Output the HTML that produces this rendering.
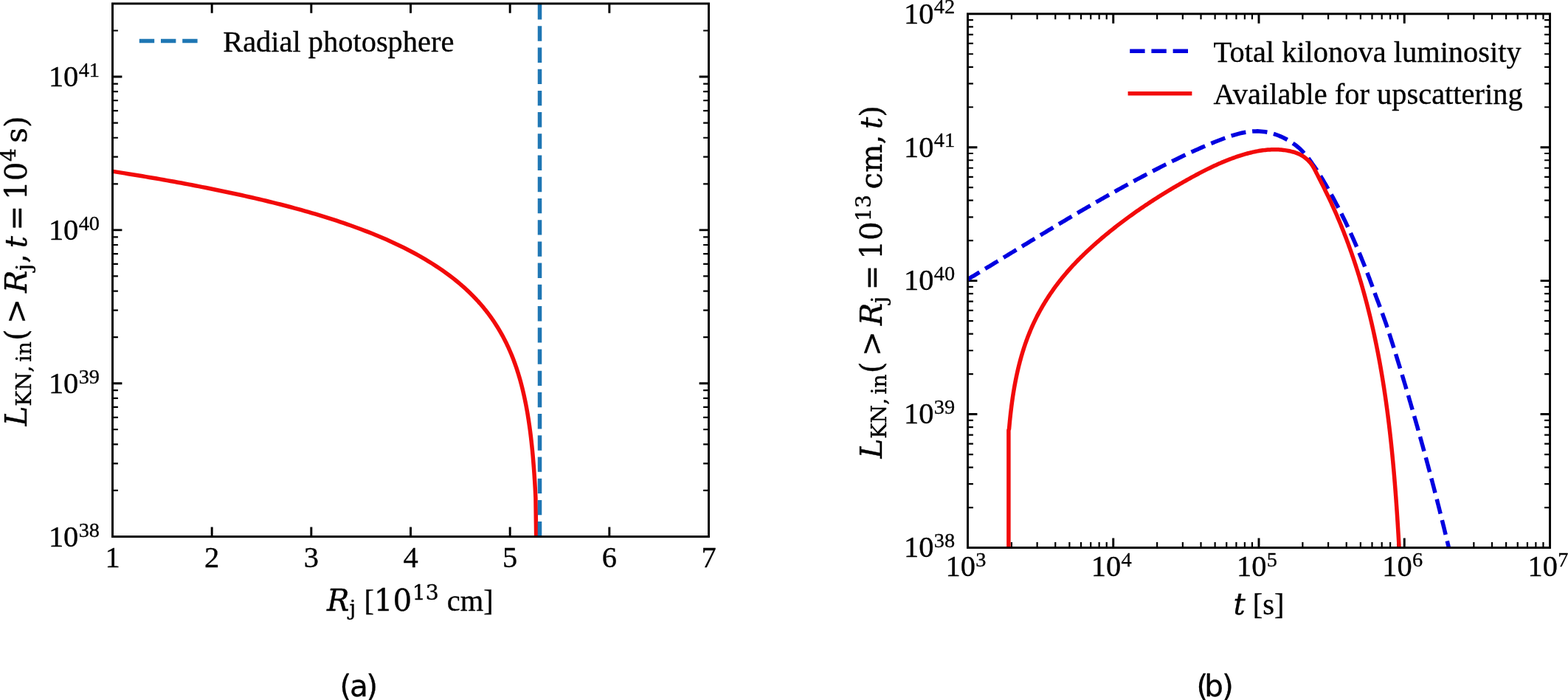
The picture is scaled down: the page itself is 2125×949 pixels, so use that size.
<!DOCTYPE html>
<html><head><meta charset="utf-8"><title>Kilonova luminosity</title>
<style>html,body{margin:0;padding:0;background:#fff}svg{display:block}</style>
</head><body>
<svg width="2125" height="949" viewBox="0 0 2125 949">
<rect width="2125" height="949" fill="#fff"/>
<g fill="#000" stroke="#000" stroke-width="0.35" stroke-linejoin="round">
<text x="65.9" y="740.8" font-family="Liberation Serif, serif" font-size="40.44">10<tspan x="106.65" y="727.5" font-size="28.31">38</tspan></text>
<text x="65.9" y="532.98" font-family="Liberation Serif, serif" font-size="40.44">10<tspan x="106.65" y="519.68" font-size="28.31">39</tspan></text>
<text x="65.9" y="325.17" font-family="Liberation Serif, serif" font-size="40.44">10<tspan x="106.65" y="311.87" font-size="28.31">40</tspan></text>
<text x="65.9" y="117.35" font-family="Liberation Serif, serif" font-size="40.44">10<tspan x="106.65" y="104.05" font-size="28.31">41</tspan></text>
<text x="152.5" y="768.5" font-family="Liberation Serif, serif" font-size="40.44" text-anchor="middle">1</text>
<text x="287.17" y="768.5" font-family="Liberation Serif, serif" font-size="40.44" text-anchor="middle">2</text>
<text x="421.83" y="768.5" font-family="Liberation Serif, serif" font-size="40.44" text-anchor="middle">3</text>
<text x="556.5" y="768.5" font-family="Liberation Serif, serif" font-size="40.44" text-anchor="middle">4</text>
<text x="691.17" y="768.5" font-family="Liberation Serif, serif" font-size="40.44" text-anchor="middle">5</text>
<text x="825.83" y="768.5" font-family="Liberation Serif, serif" font-size="40.44" text-anchor="middle">6</text>
<text x="960.5" y="768.5" font-family="Liberation Serif, serif" font-size="40.44" text-anchor="middle">7</text>
<text x="302.2" y="69.7" font-family="Liberation Serif, serif" font-size="40.44">Radial photosphere</text>
<text transform="translate(443 827.7)"><tspan x="0" y="0" font-family="DejaVu Serif, serif" font-size="40.44" font-style="italic">R</tspan><tspan x="30.44" y="6.36" font-family="DejaVu Serif, serif" font-size="28.31">j</tspan><tspan x="40.27 50.38" y="0" font-family="Liberation Serif, serif" font-size="40.44"> [</tspan><tspan x="63.83 89.55" y="0" font-family="DejaVu Serif, serif" font-size="40.44">10</tspan><tspan x="115.64 133.64" y="-14.82" font-family="DejaVu Serif, serif" font-size="28.31">13</tspan><tspan x="152.7 162.81 180.75 212.19" y="0" font-family="Liberation Serif, serif" font-size="40.44"> cm]</tspan></text>
<text transform="translate(36.1 577.5) rotate(-90)"><tspan x="0" y="0" font-family="DejaVu Serif, serif" font-size="40.44" font-style="italic">L</tspan><tspan x="26.85 47.98 72.74 87.1 96.15" y="6.36" font-family="DejaVu Serif, serif" font-size="28.31">KN,in</tspan><tspan x="115.43 138.87" y="0" font-family="DejaVu Serif, serif" font-size="40.44">(&gt;</tspan><tspan x="180.4" y="0" font-family="DejaVu Serif, serif" font-size="40.44" font-style="italic">R</tspan><tspan x="210.84" y="6.36" font-family="DejaVu Serif, serif" font-size="28.31">j</tspan><tspan x="220.67" y="0" font-family="DejaVu Serif, serif" font-size="40.44">,</tspan><tspan x="241.19" y="0" font-family="DejaVu Serif, serif" font-size="40.44" font-style="italic">t</tspan><tspan x="265.1 306.63 332.35" y="0" font-family="DejaVu Serif, serif" font-size="40.44">=10</tspan><tspan x="358.44" y="-14.82" font-family="DejaVu Serif, serif" font-size="28.31">4</tspan><tspan x="383.88 404.63" y="0" font-family="DejaVu Serif, serif" font-size="40.44">s)</tspan></text>
<text x="460.4" y="943.8" font-family="DejaVu Sans, sans-serif" font-size="40.5">(<tspan dx="-2.1">a</tspan><tspan dx="-2.6">)</tspan></text>
<text x="1225.1" y="755.3" font-family="Liberation Serif, serif" font-size="40.44">10<tspan x="1265.85" y="742" font-size="28.31">38</tspan></text>
<text x="1225.1" y="574.38" font-family="Liberation Serif, serif" font-size="40.44">10<tspan x="1265.85" y="561.08" font-size="28.31">39</tspan></text>
<text x="1225.1" y="393.45" font-family="Liberation Serif, serif" font-size="40.44">10<tspan x="1265.85" y="380.15" font-size="28.31">40</tspan></text>
<text x="1225.1" y="212.52" font-family="Liberation Serif, serif" font-size="40.44">10<tspan x="1265.85" y="199.22" font-size="28.31">41</tspan></text>
<text x="1225.1" y="31.6" font-family="Liberation Serif, serif" font-size="40.44">10<tspan x="1265.85" y="18.3" font-size="28.31">42</tspan></text>
<text x="1281.6" y="781.3" font-family="Liberation Serif, serif" font-size="40.44">10<tspan x="1322.35" y="767.5" font-size="28.31">3</tspan></text>
<text x="1478.85" y="781.3" font-family="Liberation Serif, serif" font-size="40.44">10<tspan x="1519.6" y="767.5" font-size="28.31">4</tspan></text>
<text x="1676.1" y="781.3" font-family="Liberation Serif, serif" font-size="40.44">10<tspan x="1716.85" y="767.5" font-size="28.31">5</tspan></text>
<text x="1873.35" y="781.3" font-family="Liberation Serif, serif" font-size="40.44">10<tspan x="1914.1" y="767.5" font-size="28.31">6</tspan></text>
<text x="2070.6" y="781.3" font-family="Liberation Serif, serif" font-size="40.44">10<tspan x="2111.35" y="767.5" font-size="28.31">7</tspan></text>
<text x="1644.6" y="83.8" font-family="Liberation Serif, serif" font-size="40.44">Total kilonova luminosity</text>
<text x="1644.6" y="141.2" font-family="Liberation Serif, serif" font-size="40.44">Available for upscattering</text>
<text transform="translate(1671.4 833.3)"><tspan x="0" y="0" font-family="DejaVu Serif, serif" font-size="40.44" font-style="italic">t</tspan><tspan x="16.25 26.35 39.81 55.54" y="0" font-family="Liberation Serif, serif" font-size="40.44"> [s]</tspan></text>
<text transform="translate(1195 621.6) rotate(-90)"><tspan x="0" y="0" font-family="DejaVu Serif, serif" font-size="40.44" font-style="italic">L</tspan><tspan x="26.85 47.98 72.74 87.1 96.15" y="6.36" font-family="DejaVu Serif, serif" font-size="28.31">KN,in</tspan><tspan x="115.43 138.87" y="0" font-family="DejaVu Serif, serif" font-size="40.44">(&gt;</tspan><tspan x="180.4" y="0" font-family="DejaVu Serif, serif" font-size="40.44" font-style="italic">R</tspan><tspan x="210.84" y="6.36" font-family="DejaVu Serif, serif" font-size="28.31">j</tspan><tspan x="228.33 269.87 295.58" y="0" font-family="DejaVu Serif, serif" font-size="40.44">=10</tspan><tspan x="321.67 339.68" y="-14.82" font-family="DejaVu Serif, serif" font-size="28.31">13</tspan><tspan x="365.13 387.77 426.1" y="0" font-family="DejaVu Serif, serif" font-size="40.44">cm,</tspan><tspan x="446.62" y="0" font-family="DejaVu Serif, serif" font-size="40.44" font-style="italic">t</tspan><tspan x="462.85" y="0" font-family="DejaVu Serif, serif" font-size="40.44">)</tspan></text>
<text x="1621.5" y="943.8" font-family="DejaVu Sans, sans-serif" font-size="40.5">(<tspan dx="-5.0">b</tspan><tspan dx="-2.0">)</tspan></text>
</g>
<path d="M287.17 727.5v-12.9M287.17 4.9v12.9M421.83 727.5v-12.9M421.83 4.9v12.9M556.5 727.5v-12.9M556.5 4.9v12.9M691.17 727.5v-12.9M691.17 4.9v12.9M825.83 727.5v-12.9M825.83 4.9v12.9M152.5 519.68h12.9M960.5 519.68h-12.9M152.5 311.87h12.9M960.5 311.87h-12.9M152.5 104.05h12.9M960.5 104.05h-12.9" stroke="#000" stroke-width="2.94" fill="none"/>
<path d="M152.5 664.94h7.4M960.5 664.94h-7.4M152.5 628.35h7.4M960.5 628.35h-7.4M152.5 602.38h7.4M960.5 602.38h-7.4M152.5 582.24h7.4M960.5 582.24h-7.4M152.5 565.79h7.4M960.5 565.79h-7.4M152.5 551.88h7.4M960.5 551.88h-7.4M152.5 539.82h7.4M960.5 539.82h-7.4M152.5 529.19h7.4M960.5 529.19h-7.4M152.5 457.13h7.4M960.5 457.13h-7.4M152.5 420.53h7.4M960.5 420.53h-7.4M152.5 394.57h7.4M960.5 394.57h-7.4M152.5 374.43h7.4M960.5 374.43h-7.4M152.5 357.97h7.4M960.5 357.97h-7.4M152.5 344.06h7.4M960.5 344.06h-7.4M152.5 332.01h7.4M960.5 332.01h-7.4M152.5 321.38h7.4M960.5 321.38h-7.4M152.5 249.31h7.4M960.5 249.31h-7.4M152.5 212.72h7.4M960.5 212.72h-7.4M152.5 186.75h7.4M960.5 186.75h-7.4M152.5 166.61h7.4M960.5 166.61h-7.4M152.5 150.16h7.4M960.5 150.16h-7.4M152.5 136.24h7.4M960.5 136.24h-7.4M152.5 124.19h7.4M960.5 124.19h-7.4M152.5 113.56h7.4M960.5 113.56h-7.4M152.5 41.49h7.4M960.5 41.49h-7.4" stroke="#000" stroke-width="2.2" fill="none"/>
<clipPath id="ca"><rect x="152.5" y="4.9" width="808.0" height="722.6"/></clipPath>
<g clip-path="url(#ca)" fill="none">
<path d="M149.81 231.87 L154.59 232.62 L159.38 233.37 L164.17 234.13 L168.96 234.89 L173.75 235.66 L178.54 236.44 L183.32 237.22 L188.11 238.01 L192.9 238.81 L197.69 239.61 L202.48 240.42 L207.26 241.24 L212.05 242.07 L216.84 242.9 L221.63 243.75 L226.42 244.6 L231.21 245.46 L235.99 246.32 L240.78 247.2 L245.57 248.08 L250.36 248.98 L255.15 249.88 L259.93 250.79 L264.72 251.71 L269.51 252.64 L274.3 253.58 L279.09 254.53 L283.87 255.49 L288.66 256.46 L293.45 257.44 L298.24 258.43 L303.03 259.43 L307.82 260.43 L312.6 261.44 L317.39 262.47 L322.18 263.51 L326.97 264.56 L331.76 265.62 L336.54 266.7 L341.33 267.79 L346.12 268.89 L350.91 270.01 L355.7 271.14 L360.49 272.29 L365.27 273.45 L370.06 274.63 L374.85 275.82 L379.64 277.03 L384.43 278.26 L389.21 279.51 L394 280.77 L398.79 282.05 L403.58 283.36 L408.37 284.69 L413.15 286.04 L417.94 287.42 L422.73 288.81 L427.52 290.23 L432.31 291.67 L437.1 293.13 L441.88 294.62 L446.67 296.13 L451.46 297.66 L456.25 299.23 L461.04 300.82 L465.82 302.44 L470.61 304.09 L475.4 305.77 L480.19 307.48 L484.98 309.23 L489.77 311 L494.55 312.82 L499.34 314.67 L504.13 316.56 L508.92 318.5 L513.71 320.47 L518.49 322.49 L523.28 324.57 L528.07 326.72 L532.86 328.91 L537.65 331.16 L542.43 333.46 L547.22 335.82 L552.01 338.24 L556.8 340.73 L561.59 343.29 L566.38 345.92 L571.16 348.62 L575.95 351.41 L580.74 354.29 L585.53 357.26 L590.32 360.32 L595.1 363.5 L599.89 366.78 L604.68 370.19 L609.47 373.73 L614.26 377.41 L619.05 381.25 L623.83 385.25 L623.83 385.25 L624.48 385.8 L625.12 386.35 L625.76 386.91 L626.4 387.47 L627.04 388.04 L627.69 388.6 L628.33 389.17 L628.97 389.75 L629.61 390.33 L630.25 390.91 L630.9 391.49 L631.54 392.08 L632.18 392.68 L632.82 393.27 L633.46 393.87 L634.11 394.48 L634.75 395.09 L635.39 395.7 L636.03 396.32 L636.67 396.94 L637.32 397.56 L637.96 398.19 L638.6 398.83 L639.24 399.47 L639.88 400.11 L640.53 400.76 L641.17 401.41 L641.81 402.07 L642.45 402.73 L643.09 403.4 L643.74 404.07 L644.38 404.74 L645.02 405.43 L645.66 406.11 L646.3 406.8 L646.95 407.5 L647.59 408.2 L648.23 408.91 L648.87 409.63 L649.51 410.34 L650.16 411.07 L650.8 411.8 L651.44 412.54 L652.08 413.28 L652.72 414.03 L653.37 414.78 L654.01 415.54 L654.65 416.31 L655.29 417.08 L655.93 417.87 L656.58 418.65 L657.22 419.45 L657.86 420.25 L658.5 421.06 L659.14 421.87 L659.79 422.7 L660.43 423.53 L661.07 424.36 L661.71 425.21 L662.35 426.06 L663 426.92 L663.64 427.8 L664.28 428.67 L664.92 429.56 L665.56 430.46 L666.21 431.36 L666.85 432.27 L667.49 433.2 L668.13 434.13 L668.77 435.07 L669.42 436.02 L670.06 436.99 L670.7 437.96 L671.34 438.94 L671.98 439.93 L672.63 440.94 L673.27 441.95 L673.91 442.98 L674.55 444.02 L675.19 445.07 L675.83 446.13 L676.48 447.21 L677.12 448.3 L677.76 449.4 L678.4 450.52 L679.04 451.65 L679.69 452.79 L680.33 453.94 L680.97 455.11 L681.61 456.3 L682.25 457.5 L682.9 458.71 L683.54 459.95 L684.18 461.2 L684.82 462.46 L685.46 463.75 L686.11 465.05 L686.75 466.38 L687.39 467.72 L688.03 469.08 L688.67 470.47 L689.32 471.87 L689.96 473.3 L690.6 474.75 L691.24 476.23 L691.88 477.72 L692.53 479.25 L693.17 480.8 L693.81 482.38 L694.45 483.98 L695.09 485.62 L695.74 487.28 L696.38 488.98 L697.02 490.71 L697.66 492.47 L698.3 494.27 L698.95 496.1 L699.59 497.97 L700.23 499.88 L700.87 501.84 L701.51 503.83 L702.16 505.88 L702.8 507.96 L703.44 510.1 L704.08 512.29 L704.72 514.54 L705.37 516.84 L706.01 519.2 L706.65 521.63 L707.29 524.12 L707.93 526.68 L708.58 529.32 L709.22 532.04 L709.86 534.84 L710.5 537.73 L711.14 540.72 L711.79 543.81 L712.43 547.01 L713.07 550.33 L713.71 553.77 L714.35 557.35 L715 561.08 L715.64 564.97 L716.28 569.03 L716.92 573.29 L717.56 577.75 L718.21 582.45 L718.85 587.41 L719.49 592.65 L720.13 598.22 L720.77 604.16 L721.42 610.51 L722.06 617.34 L722.7 624.74 L723.34 632.79 L723.98 641.64 L724.63 651.44 L725.27 662.45 L725.91 674.98 L726.7 731" stroke="#f20a0a" stroke-width="5.51" stroke-linejoin="round"/>
<path d="M731.5 727.5V4.9" stroke="#1f77b4" stroke-width="5.51" stroke-dasharray="20.39 8.82"/>
</g>
<rect x="152.5" y="4.9" width="808" height="722.6" fill="none" stroke="#000" stroke-width="2.95"/>
<path d="M188.8 55.6H270" fill="none" stroke="#1f77b4" stroke-width="5.51" stroke-dasharray="20.39 8.82"/>
<path d="M1508.75 742.5v-12.9M1508.75 18.8v12.9M1706 742.5v-12.9M1706 18.8v12.9M1903.25 742.5v-12.9M1903.25 18.8v12.9M1311.5 561.58h12.9M2100.5 561.58h-12.9M1311.5 380.65h12.9M2100.5 380.65h-12.9M1311.5 199.72h12.9M2100.5 199.72h-12.9" stroke="#000" stroke-width="2.94" fill="none"/>
<path d="M1370.88 742.5v-7.4M1370.88 18.8v7.4M1405.61 742.5v-7.4M1405.61 18.8v7.4M1430.26 742.5v-7.4M1430.26 18.8v7.4M1449.37 742.5v-7.4M1449.37 18.8v7.4M1464.99 742.5v-7.4M1464.99 18.8v7.4M1478.2 742.5v-7.4M1478.2 18.8v7.4M1489.63 742.5v-7.4M1489.63 18.8v7.4M1499.72 742.5v-7.4M1499.72 18.8v7.4M1568.13 742.5v-7.4M1568.13 18.8v7.4M1602.86 742.5v-7.4M1602.86 18.8v7.4M1627.51 742.5v-7.4M1627.51 18.8v7.4M1646.62 742.5v-7.4M1646.62 18.8v7.4M1662.24 742.5v-7.4M1662.24 18.8v7.4M1675.45 742.5v-7.4M1675.45 18.8v7.4M1686.88 742.5v-7.4M1686.88 18.8v7.4M1696.97 742.5v-7.4M1696.97 18.8v7.4M1765.38 742.5v-7.4M1765.38 18.8v7.4M1800.11 742.5v-7.4M1800.11 18.8v7.4M1824.76 742.5v-7.4M1824.76 18.8v7.4M1843.87 742.5v-7.4M1843.87 18.8v7.4M1859.49 742.5v-7.4M1859.49 18.8v7.4M1872.7 742.5v-7.4M1872.7 18.8v7.4M1884.13 742.5v-7.4M1884.13 18.8v7.4M1894.22 742.5v-7.4M1894.22 18.8v7.4M1962.63 742.5v-7.4M1962.63 18.8v7.4M1997.36 742.5v-7.4M1997.36 18.8v7.4M2022.01 742.5v-7.4M2022.01 18.8v7.4M2041.12 742.5v-7.4M2041.12 18.8v7.4M2056.74 742.5v-7.4M2056.74 18.8v7.4M2069.95 742.5v-7.4M2069.95 18.8v7.4M2081.38 742.5v-7.4M2081.38 18.8v7.4M2091.47 742.5v-7.4M2091.47 18.8v7.4M1311.5 688.04h7.4M2100.5 688.04h-7.4M1311.5 656.18h7.4M2100.5 656.18h-7.4M1311.5 633.57h7.4M2100.5 633.57h-7.4M1311.5 616.04h7.4M2100.5 616.04h-7.4M1311.5 601.71h7.4M2100.5 601.71h-7.4M1311.5 589.6h7.4M2100.5 589.6h-7.4M1311.5 579.11h7.4M2100.5 579.11h-7.4M1311.5 569.85h7.4M2100.5 569.85h-7.4M1311.5 507.11h7.4M2100.5 507.11h-7.4M1311.5 475.25h7.4M2100.5 475.25h-7.4M1311.5 452.65h7.4M2100.5 452.65h-7.4M1311.5 435.11h7.4M2100.5 435.11h-7.4M1311.5 420.79h7.4M2100.5 420.79h-7.4M1311.5 408.68h7.4M2100.5 408.68h-7.4M1311.5 398.18h7.4M2100.5 398.18h-7.4M1311.5 388.93h7.4M2100.5 388.93h-7.4M1311.5 326.19h7.4M2100.5 326.19h-7.4M1311.5 294.33h7.4M2100.5 294.33h-7.4M1311.5 271.72h7.4M2100.5 271.72h-7.4M1311.5 254.19h7.4M2100.5 254.19h-7.4M1311.5 239.86h7.4M2100.5 239.86h-7.4M1311.5 227.75h7.4M2100.5 227.75h-7.4M1311.5 217.26h7.4M2100.5 217.26h-7.4M1311.5 208h7.4M2100.5 208h-7.4M1311.5 145.26h7.4M2100.5 145.26h-7.4M1311.5 113.4h7.4M2100.5 113.4h-7.4M1311.5 90.8h7.4M2100.5 90.8h-7.4M1311.5 73.26h7.4M2100.5 73.26h-7.4M1311.5 58.94h7.4M2100.5 58.94h-7.4M1311.5 46.83h7.4M2100.5 46.83h-7.4M1311.5 36.33h7.4M2100.5 36.33h-7.4M1311.5 27.08h7.4M2100.5 27.08h-7.4" stroke="#000" stroke-width="2.2" fill="none"/>
<clipPath id="cb"><rect x="1311.5" y="18.8" width="789" height="723.7"/></clipPath>
<g clip-path="url(#cb)" fill="none">
<path d="M1310.09 379.56 L1312.49 378.11 L1314.89 376.67 L1317.29 375.22 L1319.68 373.78 L1322.08 372.33 L1324.47 370.89 L1326.86 369.44 L1329.25 367.99 L1331.63 366.55 L1334.02 365.1 L1336.4 363.66 L1338.78 362.21 L1341.16 360.77 L1343.53 359.32 L1345.91 357.88 L1348.28 356.43 L1350.65 354.99 L1353.02 353.55 L1355.39 352.1 L1357.76 350.66 L1360.13 349.22 L1362.49 347.77 L1364.85 346.33 L1367.22 344.89 L1369.58 343.45 L1371.94 342.01 L1374.3 340.57 L1376.66 339.13 L1379.02 337.7 L1381.37 336.26 L1383.73 334.82 L1386.09 333.39 L1388.44 331.95 L1390.8 330.52 L1393.15 329.09 L1395.5 327.66 L1397.86 326.22 L1400.21 324.79 L1402.56 323.37 L1404.92 321.94 L1407.27 320.51 L1409.62 319.09 L1411.97 317.66 L1414.32 316.24 L1416.68 314.82 L1419.03 313.4 L1421.38 311.98 L1423.74 310.56 L1426.09 309.14 L1428.44 307.73 L1430.8 306.31 L1433.15 304.9 L1435.51 303.49 L1437.86 302.08 L1440.22 300.67 L1442.58 299.27 L1444.94 297.86 L1447.29 296.46 L1449.65 295.06 L1452.02 293.66 L1454.38 292.26 L1456.74 290.87 L1459.1 289.47 L1461.47 288.08 L1463.84 286.69 L1466.2 285.3 L1468.57 283.92 L1470.94 282.53 L1473.32 281.15 L1475.69 279.77 L1478.06 278.39 L1480.44 277.02 L1482.82 275.64 L1485.2 274.27 L1487.58 272.9 L1489.97 271.54 L1492.35 270.17 L1494.74 268.81 L1497.13 267.45 L1499.52 266.09 L1501.92 264.74 L1504.31 263.39 L1506.71 262.04 L1509.11 260.69 L1511.52 259.34 L1513.92 258 L1516.33 256.66 L1518.74 255.33 L1521.16 253.99 L1523.58 252.66 L1525.99 251.33 L1528.42 250.01 L1530.84 248.68 L1533.27 247.36 L1535.7 246.05 L1538.13 244.73 L1540.57 243.42 L1543.01 242.11 L1545.46 240.81 L1547.9 239.5 L1550.35 238.21 L1552.81 236.91 L1555.26 235.62 L1557.72 234.33 L1560.19 233.04 L1562.66 231.76 L1565.13 230.48 L1567.6 229.2 L1570.08 227.93 L1572.56 226.66 L1575.05 225.39 L1577.54 224.13 L1580.04 222.87 L1582.53 221.62 L1585.04 220.37 L1587.54 219.13 L1590.05 217.89 L1592.56 216.66 L1595.08 215.43 L1597.6 214.21 L1600.13 212.99 L1602.66 211.78 L1605.19 210.58 L1607.73 209.39 L1610.27 208.2 L1612.81 207.02 L1615.36 205.85 L1617.91 204.69 L1620.46 203.54 L1623.02 202.39 L1625.58 201.26 L1628.15 200.13 L1630.72 199.02 L1633.29 197.91 L1635.87 196.82 L1638.45 195.73 L1641.04 194.66 L1643.62 193.6 L1646.21 192.55 L1648.81 191.51 L1651.41 190.49 L1654.01 189.47 L1656.62 188.48 L1659.22 187.5 L1661.84 186.54 L1664.45 185.62 L1667.07 184.72 L1669.7 183.86 L1672.32 183.04 L1674.95 182.27 L1677.59 181.54 L1680.22 180.87 L1682.86 180.26 L1685.51 179.7 L1688.15 179.21 L1690.81 178.79 L1693.46 178.44 L1696.12 178.18 L1698.78 177.99 L1701.44 177.89 L1704.11 177.88 L1706.78 177.96 L1709.45 178.15 L1712.13 178.43 L1714.81 178.81 L1717.48 179.29 L1720.14 179.86 L1722.8 180.52 L1725.44 181.27 L1728.07 182.1 L1730.68 183.02 L1733.27 184.02 L1735.83 185.1 L1738.37 186.26 L1740.88 187.49 L1743.36 188.79 L1745.8 190.17 L1748.2 191.61 L1750.56 193.12 L1752.87 194.69 L1755.14 196.32 L1757.36 198.01 L1759.53 199.76 L1761.54 201.56 L1763.46 203.41 L1765.34 205.31 L1767.15 207.26 L1768.92 209.26 L1770.63 211.29 L1772.3 213.37 L1773.92 215.49 L1775.5 217.64 L1777.04 219.82 L1778.54 222.04 L1780.17 224.28 L1781.78 226.55 L1783.35 228.84 L1784.89 231.16 L1786.41 233.49 L1787.91 235.85 L1789.38 238.21 L1790.84 240.59 L1792.28 242.98 L1793.71 245.38 L1795.12 247.79 L1796.53 250.19 L1797.92 252.61 L1799.31 255.02 L1800.68 257.44 L1802.05 259.86 L1803.4 262.29 L1804.75 264.72 L1806.08 267.16 L1807.41 269.59 L1808.72 272.04 L1810.03 274.48 L1811.33 276.93 L1812.62 279.38 L1813.89 281.84 L1815.16 284.3 L1816.42 286.76 L1817.67 289.23 L1818.92 291.7 L1820.15 294.18 L1821.38 296.65 L1822.59 299.13 L1823.79 301.62 L1824.96 304.1 L1826.13 306.6 L1827.29 309.09 L1828.45 311.59 L1829.59 314.09 L1830.73 316.59 L1831.85 319.1 L1832.98 321.61 L1834.09 324.12 L1835.19 326.63 L1836.29 329.15 L1837.38 331.67 L1838.47 334.2 L1839.54 336.73 L1840.61 339.26 L1841.67 341.79 L1842.73 344.32 L1843.78 346.86 L1844.82 349.41 L1845.85 351.95 L1846.88 354.5 L1847.9 357.05 L1848.92 359.6 L1849.92 362.15 L1850.93 364.71 L1851.92 367.27 L1852.91 369.83 L1853.9 372.4 L1854.88 374.97 L1855.85 377.54 L1856.82 380.11 L1857.78 382.69 L1858.73 385.26 L1859.68 387.84 L1860.63 390.42 L1861.57 393.01 L1862.51 395.6 L1863.44 398.18 L1864.38 400.78 L1865.37 403.37 L1866.35 405.96 L1867.33 408.56 L1868.3 411.16 L1869.27 413.76 L1870.24 416.37 L1871.2 418.97 L1872.16 421.58 L1873.11 424.19 L1874.06 426.8 L1875 429.41 L1875.94 432.03 L1876.88 434.65 L1877.82 437.26 L1878.75 439.89 L1879.61 442.51 L1880.47 445.13 L1881.32 447.76 L1882.17 450.38 L1883.02 453.01 L1883.87 455.64 L1884.71 458.28 L1885.55 460.91 L1886.39 463.54 L1887.22 466.18 L1888.06 468.82 L1888.89 471.46 L1889.71 474.1 L1890.54 476.74 L1891.36 479.38 L1892.18 482.03 L1893 484.68 L1893.82 487.32 L1894.63 489.97 L1895.45 492.62 L1896.26 495.27 L1897.07 497.92 L1897.88 500.58 L1898.68 503.23 L1899.49 505.89 L1900.29 508.54 L1901.09 511.2 L1901.89 513.86 L1902.69 516.52 L1903.49 519.18 L1904.28 521.84 L1905.07 524.5 L1905.86 527.16 L1906.65 529.82 L1907.44 532.49 L1908.23 535.15 L1909.01 537.82 L1909.79 540.48 L1910.57 543.15 L1911.35 545.82 L1912.13 548.48 L1912.9 551.15 L1913.67 553.82 L1914.45 556.49 L1915.22 559.16 L1915.98 561.83 L1916.75 564.5 L1917.51 567.17 L1918.27 569.84 L1919.03 572.52 L1919.79 575.19 L1920.55 577.86 L1921.3 580.53 L1922.06 583.2 L1922.81 585.88 L1923.55 588.55 L1924.3 591.22 L1925.05 593.9 L1925.79 596.57 L1926.53 599.24 L1927.27 601.91 L1928.01 604.59 L1928.74 607.26 L1929.47 609.93 L1930.21 612.61 L1930.94 615.28 L1931.66 617.95 L1932.39 620.62 L1933.11 623.3 L1933.83 625.97 L1934.55 628.64 L1935.27 631.31 L1935.98 633.98 L1936.7 636.65 L1937.41 639.32 L1938.12 641.99 L1938.83 644.66 L1939.53 647.33 L1940.23 650 L1940.94 652.66 L1941.64 655.33 L1942.33 658 L1943.03 660.66 L1943.72 663.33 L1944.41 665.99 L1945.1 668.66 L1945.79 671.32 L1946.47 673.98 L1947.15 676.64 L1947.83 679.3 L1948.51 681.96 L1949.19 684.62 L1949.86 687.28 L1950.53 689.93 L1951.2 692.59 L1951.87 695.24 L1952.54 697.9 L1953.2 700.55 L1953.86 703.2 L1954.52 705.85 L1955.18 708.5 L1955.83 711.15 L1956.49 713.79 L1957.14 716.44 L1957.78 719.08 L1958.43 721.73 L1959.07 724.37 L1959.72 727.01 L1960.35 729.65 L1960.99 732.28 L1961.63 734.92 L1962.26 737.55 L1962.89 740.19 L1963.52 742.82 L1964.14 745.45 L1964.77 748.08 L1965.39 750.7 L1966.01 753.33" stroke="#0000e0" stroke-width="5.51" stroke-dasharray="20.39 8.82" stroke-dashoffset="0"/>
<path d="M1366.9 750 L1366.9 583.2 L1367.55 581.46 L1367.69 579.8 L1367.84 578.14 L1367.99 576.49 L1368.14 574.83 L1368.3 573.17 L1368.46 571.51 L1368.62 569.84 L1368.79 568.18 L1368.96 566.52 L1369.14 564.86 L1369.31 563.2 L1369.5 561.54 L1369.68 559.88 L1369.87 558.22 L1370.07 556.56 L1370.27 554.9 L1370.47 553.24 L1370.68 551.58 L1370.89 549.93 L1371.1 548.27 L1371.32 546.61 L1371.55 544.95 L1371.78 543.3 L1372.01 541.64 L1372.25 539.99 L1372.49 538.33 L1372.74 536.68 L1373 535.03 L1373.26 533.38 L1373.52 531.72 L1373.79 530.07 L1374.07 528.43 L1374.35 526.78 L1374.63 525.13 L1374.93 523.49 L1375.22 521.84 L1375.53 520.2 L1375.84 518.56 L1376.15 516.92 L1376.47 515.28 L1376.8 513.64 L1377.13 512 L1377.47 510.37 L1377.82 508.74 L1378.17 507.1 L1378.53 505.47 L1378.89 503.85 L1379.26 502.22 L1379.64 500.6 L1380.02 498.97 L1380.42 497.35 L1380.81 495.73 L1381.22 494.12 L1381.63 492.5 L1382.05 490.89 L1382.48 489.28 L1382.91 487.67 L1383.35 486.06 L1383.8 484.46 L1384.26 482.86 L1384.72 481.26 L1385.19 479.66 L1385.67 478.07 L1386.16 476.48 L1386.65 474.89 L1387.15 473.3 L1387.66 471.72 L1388.18 470.14 L1388.71 468.56 L1389.24 466.98 L1389.79 465.41 L1390.34 463.84 L1390.9 462.27 L1391.47 460.71 L1392.05 459.14 L1392.63 457.59 L1393.23 456.03 L1393.83 454.48 L1394.44 452.93 L1395.06 451.38 L1395.69 449.84 L1396.33 448.3 L1396.98 446.77 L1397.64 445.24 L1398.31 443.71 L1398.98 442.18 L1399.67 440.66 L1400.37 439.14 L1401.07 437.63 L1401.79 436.12 L1402.51 434.61 L1403.25 433.11 L1403.99 431.61 L1404.74 430.11 L1405.5 428.62 L1406.27 427.13 L1407.05 425.65 L1407.84 424.17 L1408.64 422.7 L1409.44 421.23 L1410.26 419.76 L1411.08 418.3 L1411.91 416.84 L1412.75 415.39 L1413.6 413.94 L1414.45 412.5 L1415.32 411.06 L1416.19 409.63 L1417.07 408.2 L1417.96 406.78 L1418.86 405.36 L1419.76 403.95 L1420.68 402.54 L1421.6 401.13 L1422.53 399.73 L1423.46 398.34 L1424.41 396.95 L1425.36 395.57 L1426.31 394.2 L1427.28 392.82 L1428.25 391.46 L1429.23 390.1 L1430.22 388.74 L1431.21 387.4 L1432.22 386.05 L1433.22 384.72 L1434.24 383.38 L1435.26 382.06 L1436.29 380.74 L1437.32 379.43 L1438.36 378.12 L1439.41 376.82 L1440.47 375.53 L1441.53 374.24 L1442.59 372.96 L1443.67 371.68 L1444.75 370.41 L1445.83 369.15 L1446.92 367.89 L1448.02 366.64 L1449.12 365.39 L1450.23 364.15 L1451.35 362.91 L1452.47 361.69 L1453.59 360.46 L1454.73 359.24 L1455.86 358.03 L1457 356.82 L1458.15 355.62 L1459.3 354.42 L1460.46 353.23 L1461.62 352.04 L1462.79 350.86 L1463.96 349.68 L1465.14 348.51 L1466.32 347.34 L1467.51 346.18 L1468.7 345.02 L1469.9 343.87 L1471.1 342.72 L1472.3 341.57 L1473.51 340.43 L1474.73 339.29 L1475.95 338.16 L1477.17 337.03 L1478.39 335.91 L1479.62 334.79 L1480.86 333.68 L1482.1 332.56 L1483.34 331.46 L1484.58 330.35 L1485.83 329.25 L1487.09 328.15 L1488.34 327.06 L1489.6 325.97 L1490.86 324.89 L1492.13 323.8 L1493.4 322.72 L1494.67 321.65 L1495.95 320.58 L1497.23 319.51 L1498.51 318.44 L1499.8 317.38 L1501.09 316.32 L1502.38 315.26 L1503.67 314.21 L1504.97 313.16 L1506.27 312.12 L1507.58 311.08 L1508.88 310.04 L1510.19 309 L1511.51 307.97 L1512.82 306.94 L1514.14 305.92 L1515.46 304.9 L1516.79 303.88 L1518.12 302.86 L1519.45 301.85 L1520.78 300.84 L1522.12 299.84 L1523.45 298.84 L1524.8 297.84 L1526.14 296.84 L1527.49 295.85 L1528.83 294.86 L1530.19 293.88 L1531.54 292.89 L1532.9 291.91 L1534.26 290.94 L1535.62 289.97 L1536.98 289 L1538.35 288.03 L1539.72 287.07 L1541.09 286.11 L1542.46 285.15 L1543.84 284.2 L1545.22 283.25 L1546.6 282.3 L1547.98 281.36 L1549.37 280.42 L1550.75 279.48 L1552.14 278.54 L1553.53 277.61 L1554.93 276.69 L1556.32 275.76 L1557.72 274.84 L1559.12 273.92 L1560.52 273 L1561.93 272.09 L1563.33 271.18 L1564.74 270.28 L1566.15 269.37 L1567.56 268.47 L1568.97 267.58 L1570.39 266.68 L1571.8 265.79 L1573.22 264.9 L1574.64 264.02 L1576.07 263.14 L1577.49 262.26 L1578.92 261.38 L1580.34 260.51 L1581.77 259.64 L1583.2 258.77 L1584.63 257.91 L1586.07 257.05 L1587.5 256.19 L1588.94 255.33 L1590.38 254.48 L1591.82 253.63 L1593.26 252.79 L1594.7 251.94 L1596.14 251.1 L1597.59 250.27 L1599.03 249.43 L1600.48 248.6 L1601.93 247.77 L1603.38 246.95 L1604.83 246.12 L1606.28 245.3 L1607.73 244.49 L1609.19 243.67 L1610.64 242.86 L1612.1 242.05 L1613.56 241.25 L1615.02 240.45 L1616.48 239.65 L1617.94 238.85 L1619.4 238.06 L1620.87 237.27 L1622.34 236.49 L1623.8 235.71 L1625.27 234.93 L1626.75 234.16 L1628.22 233.4 L1629.7 232.63 L1631.18 231.88 L1632.66 231.12 L1634.14 230.38 L1635.63 229.63 L1637.12 228.9 L1638.61 228.17 L1640.1 227.44 L1641.6 226.72 L1643.1 226.01 L1644.6 225.3 L1646.11 224.6 L1647.62 223.91 L1649.13 223.22 L1650.65 222.54 L1652.17 221.86 L1653.69 221.2 L1655.22 220.54 L1656.75 219.89 L1658.29 219.24 L1659.83 218.61 L1661.37 217.98 L1662.92 217.36 L1664.47 216.74 L1666.03 216.14 L1667.59 215.54 L1669.16 214.96 L1670.73 214.38 L1672.3 213.81 L1673.88 213.25 L1675.47 212.7 L1677.06 212.16 L1678.66 211.62 L1680.26 211.1 L1681.86 210.59 L1683.47 210.09 L1685.08 209.61 L1686.7 209.13 L1688.32 208.67 L1689.95 208.22 L1691.57 207.78 L1693.21 207.36 L1694.84 206.96 L1696.48 206.57 L1698.12 206.19 L1699.76 205.83 L1701.41 205.49 L1703.05 205.17 L1704.7 204.86 L1706.35 204.57 L1708.01 204.3 L1709.66 204.05 L1711.32 203.82 L1712.97 203.61 L1714.63 203.42 L1716.29 203.26 L1717.95 203.11 L1719.6 202.99 L1721.26 202.88 L1722.92 202.81 L1724.58 202.75 L1726.24 202.72 L1727.89 202.72 L1729.55 202.74 L1731.21 202.79 L1732.86 202.86 L1734.51 202.96 L1736.16 203.09 L1737.81 203.24 L1739.46 203.42 L1741.1 203.64 L1742.75 203.88 L1744.39 204.15 L1746.02 204.45 L1747.66 204.78 L1749.29 205.15 L1750.91 205.55 L1752.53 205.98 L1754.13 206.46 L1755.71 206.98 L1757.28 207.55 L1758.84 208.16 L1760.36 208.83 L1761.87 209.55 L1763.35 210.32 L1764.8 211.15 L1766.21 212.05 L1767.6 213 L1768.94 214.02 L1770.25 215.09 L1771.51 216.21 L1772.74 217.37 L1773.91 218.58 L1775.04 219.82 L1776.11 221.1 L1777.13 222.4 L1778.09 223.73 L1779 225.08 L1779.84 226.44 L1780.64 227.82 L1781.41 229.21 L1782.15 230.62 L1782.88 232.04 L1783.6 233.47 L1784.33 234.91 L1785.06 236.37 L1785.79 237.83 L1786.53 239.3 L1787.27 240.78 L1788.02 242.27 L1788.78 243.77 L1789.54 245.27 L1790.3 246.78 L1791.07 248.29 L1791.83 249.8 L1792.6 251.32 L1793.37 252.84 L1794.13 254.37 L1794.89 255.89 L1795.65 257.41 L1796.4 258.94 L1797.15 260.46 L1797.9 261.98 L1798.64 263.51 L1799.37 265.03 L1800.11 266.56 L1800.83 268.08 L1801.56 269.6 L1802.28 271.13 L1802.99 272.65 L1803.7 274.18 L1804.41 275.7 L1805.11 277.23 L1805.81 278.75 L1806.5 280.28 L1807.2 281.81 L1807.88 283.34 L1808.56 284.86 L1809.24 286.39 L1809.92 287.92 L1810.59 289.45 L1811.26 290.98 L1811.92 292.51 L1812.58 294.05 L1813.23 295.58 L1813.89 297.11 L1814.53 298.65 L1815.18 300.18 L1815.82 301.72 L1816.46 303.26 L1817.09 304.8 L1817.72 306.34 L1818.35 307.88 L1818.97 309.42 L1819.59 310.96 L1820.2 312.51 L1820.82 314.05 L1821.42 315.6 L1822.03 317.15 L1822.63 318.7 L1823.23 320.25 L1823.82 321.8 L1824.42 323.35 L1825 324.91 L1825.59 326.47 L1826.17 328.02 L1826.75 329.58 L1827.33 331.14 L1827.9 332.71 L1828.47 334.27 L1829.03 335.84 L1829.59 337.4 L1830.15 338.97 L1830.71 340.54 L1831.26 342.11 L1831.81 343.68 L1832.36 345.26 L1832.9 346.83 L1833.44 348.41 L1833.97 349.99 L1834.51 351.57 L1835.04 353.15 L1835.56 354.73 L1836.09 356.31 L1836.61 357.89 L1837.13 359.48 L1837.64 361.06 L1838.15 362.65 L1838.66 364.24 L1839.17 365.83 L1839.67 367.42 L1840.17 369.01 L1840.66 370.61 L1841.16 372.2 L1841.65 373.8 L1842.14 375.39 L1842.62 376.99 L1843.1 378.59 L1843.58 380.19 L1844.05 381.79 L1844.53 383.39 L1845 384.99 L1845.46 386.6 L1845.93 388.2 L1846.39 389.81 L1846.84 391.41 L1847.3 393.02 L1847.75 394.63 L1848.2 396.24 L1848.65 397.85 L1849.09 399.46 L1849.53 401.07 L1849.97 402.68 L1850.4 404.3 L1850.84 405.91 L1851.27 407.53 L1851.69 409.14 L1852.12 410.76 L1852.54 412.38 L1852.96 413.99 L1853.37 415.61 L1853.78 417.23 L1854.19 418.85 L1854.6 420.48 L1855.01 422.1 L1855.41 423.72 L1855.81 425.34 L1856.2 426.97 L1856.6 428.59 L1856.99 430.22 L1857.38 431.85 L1857.76 433.47 L1858.15 435.1 L1858.53 436.73 L1858.91 438.36 L1859.28 439.98 L1859.66 441.61 L1860.03 443.24 L1860.39 444.88 L1860.76 446.51 L1861.12 448.14 L1861.48 449.77 L1861.84 451.4 L1862.2 453.04 L1862.55 454.67 L1862.9 456.3 L1863.25 457.94 L1863.59 459.57 L1863.94 461.21 L1864.28 462.84 L1864.62 464.48 L1864.95 466.12 L1865.28 467.75 L1865.62 469.39 L1865.94 471.03 L1866.27 472.67 L1866.59 474.31 L1866.91 475.94 L1867.23 477.58 L1867.55 479.22 L1867.87 480.86 L1868.18 482.5 L1868.49 484.14 L1868.79 485.78 L1869.1 487.43 L1869.4 489.07 L1869.7 490.71 L1870 492.35 L1870.3 493.99 L1870.59 495.64 L1870.89 497.28 L1871.17 498.93 L1871.46 500.57 L1871.75 502.21 L1872.03 503.86 L1872.31 505.5 L1872.59 507.15 L1872.87 508.79 L1873.14 510.44 L1873.42 512.09 L1873.69 513.73 L1873.95 515.38 L1874.22 517.03 L1874.49 518.68 L1874.75 520.32 L1875.01 521.97 L1875.27 523.62 L1875.52 525.27 L1875.78 526.92 L1876.03 528.57 L1876.28 530.22 L1876.53 531.87 L1876.77 533.52 L1877.02 535.17 L1877.26 536.82 L1877.5 538.47 L1877.74 540.12 L1877.98 541.77 L1878.21 543.43 L1878.45 545.08 L1878.68 546.73 L1878.91 548.38 L1879.13 550.04 L1879.36 551.69 L1879.58 553.34 L1879.81 555 L1880.03 556.65 L1880.24 558.3 L1880.46 559.96 L1880.68 561.61 L1880.89 563.27 L1881.1 564.92 L1881.31 566.58 L1881.52 568.24 L1881.73 569.89 L1881.93 571.55 L1882.13 573.2 L1882.34 574.86 L1882.53 576.52 L1882.73 578.17 L1882.93 579.83 L1883.12 581.49 L1883.32 583.15 L1883.51 584.8 L1883.7 586.46 L1883.89 588.12 L1884.08 589.78 L1884.26 591.44 L1884.44 593.1 L1884.63 594.76 L1884.81 596.42 L1884.99 598.08 L1885.17 599.74 L1885.34 601.4 L1885.52 603.06 L1885.69 604.72 L1885.86 606.38 L1886.03 608.04 L1886.2 609.7 L1886.37 611.36 L1886.54 613.02 L1886.7 614.68 L1886.87 616.34 L1887.03 618 L1887.19 619.66 L1887.35 621.33 L1887.51 622.99 L1887.66 624.65 L1887.82 626.31 L1887.97 627.98 L1888.13 629.64 L1888.28 631.3 L1888.43 632.96 L1888.58 634.63 L1888.73 636.29 L1888.87 637.95 L1889.02 639.62 L1889.16 641.28 L1889.31 642.94 L1889.45 644.61 L1889.59 646.27 L1889.73 647.94 L1889.87 649.6 L1890 651.26 L1890.14 652.93 L1890.28 654.59 L1890.41 656.26 L1890.54 657.92 L1890.68 659.59 L1890.81 661.25 L1890.94 662.92 L1891.06 664.58 L1891.19 666.25 L1891.32 667.91 L1891.45 669.58 L1891.57 671.24 L1891.69 672.91 L1891.82 674.57 L1891.94 676.24 L1892.06 677.9 L1892.18 679.57 L1892.3 681.24 L1892.42 682.9 L1892.53 684.57 L1892.65 686.23 L1892.77 687.9 L1892.88 689.56 L1892.99 691.23 L1893.11 692.9 L1893.22 694.56 L1893.33 696.23 L1893.44 697.9 L1893.55 699.56 L1893.66 701.23 L1893.77 702.89 L1893.87 704.56 L1893.98 706.23 L1894.09 707.89 L1894.19 709.56 L1894.3 711.23 L1894.4 712.89 L1894.5 714.56 L1894.6 716.23 L1894.71 717.89 L1894.81 719.56 L1894.91 721.22 L1895.01 722.89 L1895.11 724.56 L1895.2 726.22 L1895.3 727.89 L1895.4 729.56 L1895.49 731.22 L1895.59 732.89 L1895.69 734.56 L1895.78 736.22 L1895.88 737.89 L1895.97 739.56 L1896.06 741.22 L1896.16 742.89 L1896.25 744.55 L1896.34 746.22 L1896.43 747.89 L1896.52 749.55" stroke="#f20a0a" stroke-width="5.51" stroke-linejoin="round"/>
</g>
<rect x="1311.5" y="18.8" width="789" height="723.7" fill="none" stroke="#000" stroke-width="2.95"/>
<path d="M1531.2 69.3H1612.6" fill="none" stroke="#0000e0" stroke-width="5.51" stroke-dasharray="20.39 8.82"/>
<path d="M1528.6 126.8H1615.4" fill="none" stroke="#f20a0a" stroke-width="5.51"/>
</svg>
</body></html>
